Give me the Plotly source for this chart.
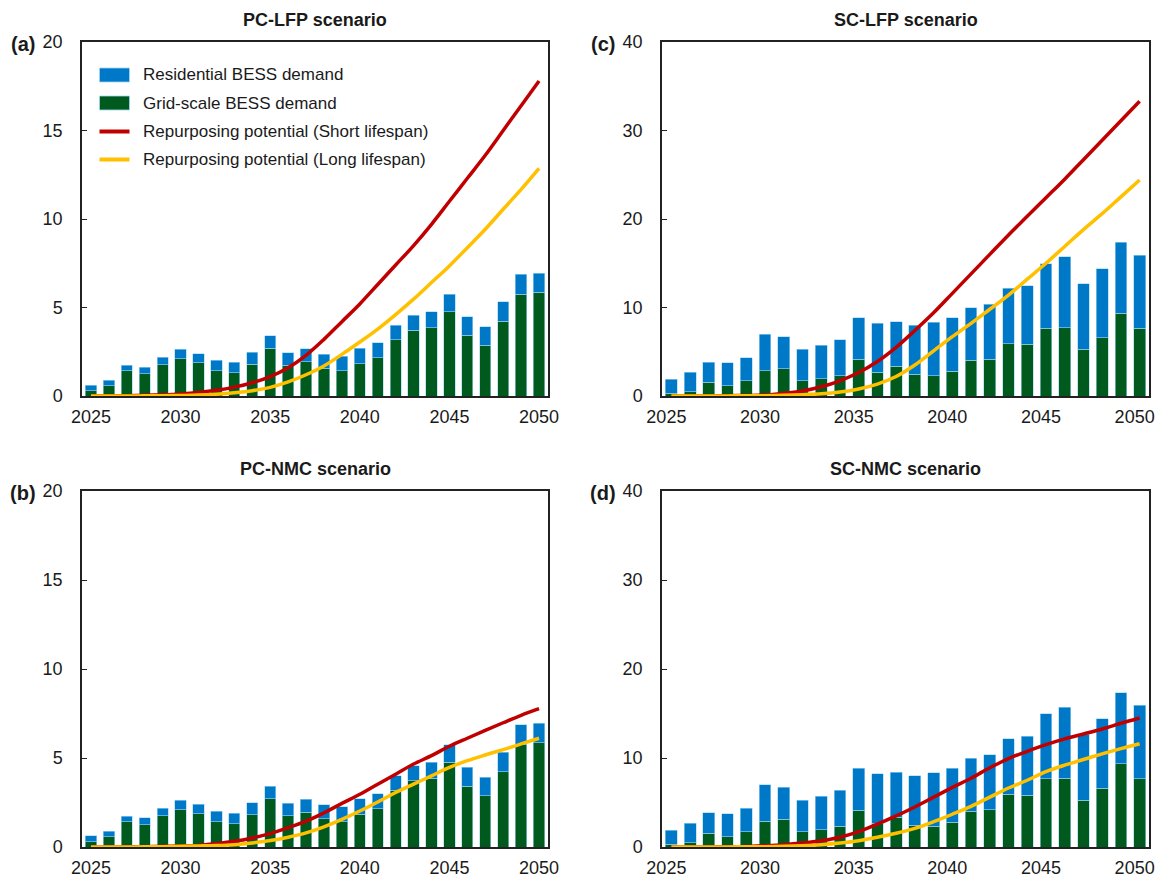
import plotly.graph_objects as go

years = list(range(2025, 2051))

# PC scenarios (panels a, b): bar totals and grid-scale part
grid_pc = [0.29, 0.58, 1.42, 1.25, 1.76, 2.10, 1.87, 1.42, 1.30, 1.80, 2.70, 1.75, 1.94,
           1.58, 1.42, 1.83, 2.15, 3.19, 3.72, 3.87, 4.75, 3.42, 2.87, 4.23, 5.75, 5.85]
total_pc = [0.62, 0.88, 1.73, 1.63, 2.18, 2.64, 2.40, 2.02, 1.91, 2.48, 3.41, 2.45, 2.68,
            2.36, 2.26, 2.70, 3.00, 4.00, 4.57, 4.75, 5.75, 4.49, 3.91, 5.32, 6.87, 6.94]
resid_pc = [round(t - g, 2) for t, g in zip(total_pc, grid_pc)]

# SC scenarios (panels c, d)
grid_sc = [0.30, 0.49, 1.53, 1.16, 1.72, 2.87, 3.10, 1.72, 1.94, 2.31, 4.14, 2.69, 3.36,
           2.43, 2.31, 2.80, 4.03, 4.18, 5.93, 5.82, 7.65, 7.72, 5.26, 6.60, 9.37, 7.65]
total_sc = [1.87, 2.69, 3.84, 3.73, 4.33, 6.98, 6.72, 5.26, 5.71, 6.38, 8.84, 8.21, 8.40,
            8.02, 8.32, 8.84, 10.00, 10.34, 12.16, 12.43, 14.96, 15.71, 12.69, 14.40, 17.35, 15.90]
resid_sc = [round(t - g, 2) for t, g in zip(total_sc, grid_sc)]

# Repurposing potential lines
short_pc_lfp = [0, 0.01, 0.02, 0.04, 0.07, 0.12, 0.2, 0.32, 0.5, 0.75, 1.1, 1.6, 2.3, 3.2,
                4.2, 5.2, 6.3, 7.4, 8.5, 9.7, 11.0, 12.3, 13.6, 15.0, 16.4, 17.8]
long_pc_lfp = [0, 0, 0, 0.01, 0.02, 0.03, 0.05, 0.1, 0.18, 0.3, 0.49, 0.8, 1.2, 1.7, 2.35,
               3.05, 3.78, 4.6, 5.47, 6.41, 7.35, 8.38, 9.42, 10.55, 11.67, 12.86]
short_pc_nmc = [0, 0, 0.01, 0.02, 0.04, 0.06, 0.09, 0.19, 0.32, 0.51, 0.75, 1.08, 1.45, 1.92,
                2.45, 2.96, 3.53, 4.09, 4.66, 5.13, 5.66, 6.11, 6.55, 6.98, 7.4, 7.77]
long_pc_nmc = [0, 0, 0, 0.01, 0.02, 0.04, 0.06, 0.08, 0.13, 0.23, 0.36, 0.55, 0.79, 1.13,
               1.55, 2.02, 2.53, 3.06, 3.53, 4.0, 4.47, 4.85, 5.17, 5.47, 5.79, 6.11]
short_sc_lfp = [0, 0, 0.01, 0.03, 0.06, 0.11, 0.3, 0.56, 1.04, 1.72, 2.65, 3.9, 5.5, 7.4,
                9.4, 11.6, 13.8, 16.0, 18.2, 20.3, 22.4, 24.5, 26.7, 28.9, 31.1, 33.3]
long_sc_lfp = [0, 0, 0, 0.01, 0.02, 0.03, 0.08, 0.15, 0.25, 0.45, 0.8, 1.35, 2.2, 3.5,
               5.1, 6.7, 8.2, 9.8, 11.4, 13.2, 15.0, 16.9, 18.8, 20.6, 22.5, 24.4]
short_sc_nmc = [0, 0, 0.01, 0.03, 0.07, 0.15, 0.26, 0.44, 0.7, 1.1, 1.73, 2.58, 3.5, 4.5,
                5.6, 6.7, 7.73, 8.9, 9.94, 10.75, 11.5, 12.15, 12.7, 13.26, 13.9, 14.5]
long_sc_nmc = [0, 0, 0, 0.01, 0.02, 0.04, 0.08, 0.15, 0.26, 0.44, 0.7, 1.1, 1.55, 2.1,
               2.84, 3.68, 4.57, 5.6, 6.63, 7.5, 8.47, 9.2, 9.83, 10.46, 11.05, 11.6]

x_tick_labels = [2025, 2030, 2035, 2040, 2045, 2050]
titles = ["PC-LFP scenario", "SC-LFP scenario", "PC-NMC scenario", "SC-NMC scenario"]
labels = ["(a)", "(c)", "(b)", "(d)"]
names = ["Residential BESS demand", "Grid-scale BESS demand",
         "Repurposing potential (Short lifespan)", "Repurposing potential (Long lifespan)"]

BLUE = "#0078C8"
GREEN = "#005A1E"
RED = "#C00000"
YELLOW = "#FFC000"
EDGE = "#9fd6f5"
FONT = "Arial, Liberation Sans, sans-serif"
TXT = "#1a1a1a"

# The page body keeps its default 8px margin: the figure starts at (8, 8)
# and reaches the right / bottom edge of the 1164x881 window.
OFF = 8
PW, PH = 1164, 881
W, H = PW - OFF, PH - OFF


def px(xp):
    return (xp - OFF) / W


def py(yp):
    return 1 - (yp - OFF) / H


# panel pixel boxes (page coords): (left, right, top, bottom)
boxes = [(82, 548, 42, 396), (662, 1149, 42, 396), (82, 548, 491, 847), (662, 1149, 491, 847)]
label_shift = [0, -5, 0, -5]
panels = [
    (grid_pc, resid_pc, short_pc_lfp, long_pc_lfp, 20, 5),
    (grid_sc, resid_sc, short_sc_lfp, long_sc_lfp, 40, 10),
    (grid_pc, resid_pc, short_pc_nmc, long_pc_nmc, 20, 5),
    (grid_sc, resid_sc, short_sc_nmc, long_sc_nmc, 40, 10),
]

fig = go.Figure()
layout = dict(
    width=W, height=H, margin=dict(l=0, r=0, t=0, b=0, pad=0, autoexpand=False),
    paper_bgcolor="white", plot_bgcolor="white",
    barmode="stack", bargap=0.37,
    font=dict(family=FONT, color=TXT, size=18),
    showlegend=False,
)
annotations = []
shapes = []

for i, (grid, resid, short, long_, ymax, dt) in enumerate(panels):
    n = i + 1
    xa = "x" if n == 1 else f"x{n}"
    ya = "y" if n == 1 else f"y{n}"
    fig.add_trace(go.Bar(x=years, y=grid, name=names[1], xaxis=xa, yaxis=ya,
                         marker=dict(color=GREEN, line=dict(color=EDGE, width=0.6))))
    fig.add_trace(go.Bar(x=years, y=resid, name=names[0], xaxis=xa, yaxis=ya,
                         marker=dict(color=BLUE, line=dict(color=EDGE, width=0.6))))
    fig.add_trace(go.Scatter(x=years, y=short, name=names[2], xaxis=xa, yaxis=ya, mode="lines",
                             line=dict(color=RED, width=3.5, shape="spline")))
    fig.add_trace(go.Scatter(x=years, y=long_, name=names[3], xaxis=xa, yaxis=ya, mode="lines",
                             line=dict(color=YELLOW, width=3.5, shape="spline")))

    l, r, t, b = boxes[i]
    xkey = "xaxis" if n == 1 else f"xaxis{n}"
    ykey = "yaxis" if n == 1 else f"yaxis{n}"
    layout[xkey] = dict(domain=[px(l), px(r)], anchor=ya, range=[2024.5, 2050.5],
                        automargin=False,
                        tickmode="array", tickvals=x_tick_labels,
                        ticks="", ticklabelstandoff=4, ticklabelshift=label_shift[i],
                        showgrid=False, zeroline=False,
                        showline=True, mirror=True, linecolor="#222", linewidth=1.5,
                        tickfont=dict(size=18, family=FONT, color=TXT))
    layout[ykey] = dict(domain=[py(b), py(t)], anchor=xa, range=[0, ymax], dtick=dt,
                        automargin=False,
                        ticks="inside", ticklen=5, tickcolor="#222", tickwidth=1.2,
                        ticklabelstandoff=14,
                        showgrid=False, zeroline=False,
                        showline=True, mirror=True, linecolor="#222", linewidth=1.5,
                        tickfont=dict(size=18, family=FONT, color=TXT))
    annotations.append(dict(text=f"<b>{titles[i]}</b>", x=px((l + r) / 2), y=py(t - 22),
                            xref="paper", yref="paper", showarrow=False,
                            font=dict(size=18, family=FONT, color=TXT),
                            xanchor="center", yanchor="middle"))
    annotations.append(dict(text=f"<b>{labels[i]}</b>", x=px(l - 59), y=py(t + 2),
                            xref="paper", yref="paper", showarrow=False,
                            font=dict(size=20, family=FONT, color=TXT),
                            xanchor="center", yanchor="middle"))

# legend inside panel (a)
leg_y = [75, 103, 131.5, 159.5]
leg_kind = ["rect", "rect", "line", "line"]
leg_col = [BLUE, GREEN, RED, YELLOW]
for name, yy, kind, col in zip(names, leg_y, leg_kind, leg_col):
    if kind == "rect":
        shapes.append(dict(type="rect", xref="paper", yref="paper",
                           x0=px(99.5), x1=px(129.5), y0=py(yy - 7), y1=py(yy + 7),
                           fillcolor=col, line=dict(color=EDGE, width=0.8)))
    else:
        shapes.append(dict(type="line", xref="paper", yref="paper",
                           x0=px(99.5), x1=px(129.5), y0=py(yy), y1=py(yy),
                           line=dict(color=col, width=4)))
    annotations.append(dict(text=name, x=px(141), y=py(yy), xref="paper", yref="paper",
                            showarrow=False, xanchor="left", yanchor="middle",
                            font=dict(size=17, family=FONT, color=TXT)))

layout["annotations"] = annotations
layout["shapes"] = shapes
fig.update_layout(**layout)

fig.write_html("out.html", config={"displayModeBar": False})
